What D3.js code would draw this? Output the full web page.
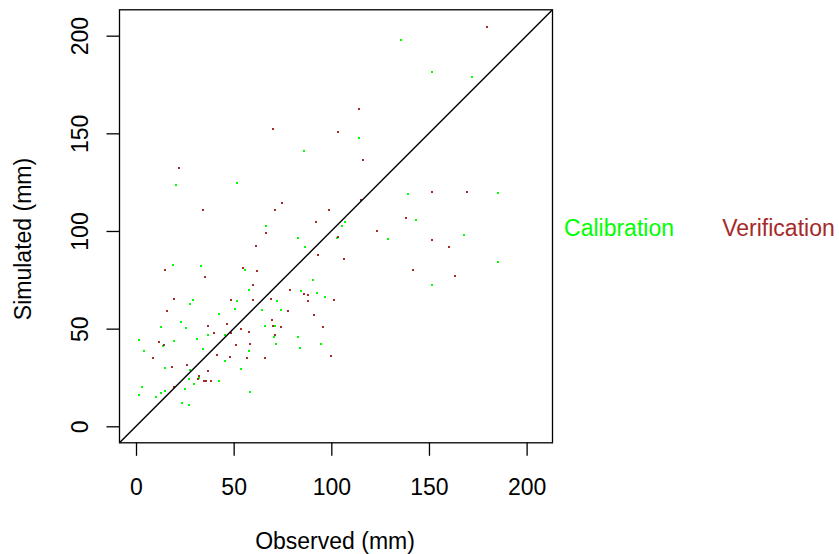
<!DOCTYPE html>
<html>
<head>
<meta charset="utf-8">
<script src="https://cdn.jsdelivr.net/npm/d3@7"></script>
<style>
  body { margin: 0; background: #fff; }
  svg { display: block; font-family: "Liberation Sans", Arial, Helvetica, sans-serif; }
</style>
</head>
<body>
<div id="chart"></div>
<script>
// calibration points (observed, simulated) in mm
const calObs = [135.9, 114.3, 86.1, 151.8, 171.8, 20.5, 51.8, 66.7, 19.0, 33.3, 55.9, 57.9,
  139.5, 107.2, 105.6, 103.1, 83.1, 129.2, 86.7, 90.8, 84.6, 92.8, 96.9, 185.6,
  143.6, 167.7, 185.6, 151.3, 29.2, 27.7, 51.8, 50.8, 64.6, 42.6, 23.1, 12.8,
  25.6, 66.1, 36.9, 45.6, 1.5, 19.5, 31.3, 13.8, 34.3, 4.1, 57.9, 45.6,
  14.9, 53.8, 27.7, 32.3, 27.2, 42.6, 29.7, 3.1, 25.1, 14.9, 12.8, 58.4,
  1.5, 10.2, 23.6, 27.2, 72.3, 74.3, 71.3, 70.8, 83.1, 71.8, 84.1, 94.9];
const calSim = [198.0, 147.8, 141.2, 181.6, 179.0, 123.8, 124.8, 102.3, 82.4, 81.9, 79.8, 69.6,
  118.7, 104.4, 102.3, 96.2, 96.2, 95.7, 91.6, 74.7, 69.1, 68.0, 66.0, 119.7,
  105.4, 98.2, 83.9, 72.6, 64.5, 62.4, 64.0, 59.9, 59.3, 57.3, 53.2, 50.7,
  50.1, 51.2, 46.6, 46.6, 44.0, 43.5, 44.5, 40.9, 39.4, 38.4, 38.4, 33.3,
  29.7, 29.2, 28.7, 24.6, 24.1, 23.0, 21.5, 20.0, 18.9, 17.9, 16.9, 17.4,
  15.9, 14.8, 11.8, 10.8, 64.0, 59.3, 51.2, 45.5, 45.5, 42.0, 39.9, 42.0];

// verification points (observed, simulated) in mm
const verObs = [114.3, 70.2, 103.6, 179.5, 22.0, 34.3, 66.7, 61.5, 14.9, 35.4, 54.9, 62.0,
  60.0, 116.4, 115.4, 74.9, 71.3, 99.0, 138.4, 92.3, 123.6, 103.6, 93.3, 106.7,
  79.0, 86.1, 88.2, 151.8, 169.7, 151.3, 160.5, 142.0, 163.1, 19.5, 15.9, 48.7,
  60.0, 46.7, 36.9, 53.8, 57.9, 40.0, 48.7, 11.8, 14.3, 51.3, 58.4, 41.5,
  8.7, 48.2, 56.9, 66.1, 26.1, 18.4, 36.9, 32.3, 31.8, 34.9, 35.9, 38.4,
  19.5, 69.2, 88.2, 101.5, 77.9, 91.3, 69.7, 70.2, 74.3, 95.9, 71.3, 100.0];
const verSim = [162.7, 152.4, 150.9, 204.6, 132.5, 110.5, 99.2, 92.1, 79.8, 76.2, 80.8, 79.3,
  72.6, 136.1, 116.1, 114.1, 111.0, 111.0, 106.9, 104.4, 99.8, 96.7, 87.5, 85.9,
  69.6, 67.5, 67.0, 120.2, 120.2, 95.2, 91.6, 79.8, 77.2, 65.0, 58.8, 64.5,
  64.5, 52.2, 51.2, 49.6, 48.1, 47.6, 47.6, 43.0, 41.4, 41.4, 42.0, 36.3,
  34.8, 35.3, 34.8, 34.8, 31.2, 30.2, 28.1, 25.6, 24.1, 23.0, 23.0, 23.0,
  20.0, 65.0, 64.0, 64.5, 58.8, 56.8, 54.2, 51.2, 50.7, 50.7, 46.6, 35.8];

const tickVals = [0, 50, 100, 150, 200];
const seriesNames = ["Calibration", "Verification"];
const seriesColors = ["#00ff00", "#a52a2a"];

const W = 839, H = 554;
const L = 119.5, R = 552.5, T = 9.8, B = 442.8;
const dom = [-8.45, 213.25];
const FS = 23;

const svg = d3.select("#chart").append("svg")
  .attr("width", W).attr("height", H);

const x = d3.scaleLinear().domain(dom).range([L, R]);
const y = d3.scaleLinear().domain(dom).range([B, T]);

// points
const sets = [
  calObs.map((v, i) => [v, calSim[i]]),
  verObs.map((v, i) => [v, verSim[i]])
];
sets.forEach((pts, k) => {
  svg.append("g").attr("shape-rendering", "crispEdges")
    .selectAll("rect").data(pts).join("rect")
    .attr("x", d => Math.round(x(d[0]) - 1))
    .attr("y", d => Math.round(y(d[1]) - 1))
    .attr("width", 2).attr("height", 2)
    .attr("fill", seriesColors[k]);
});

// 1:1 line
svg.append("line")
  .attr("x1", x(dom[0])).attr("y1", y(dom[0]))
  .attr("x2", x(dom[1])).attr("y2", y(dom[1]))
  .attr("stroke", "#000").attr("stroke-width", 1.4);

// frame
svg.append("rect")
  .attr("x", L).attr("y", T).attr("width", R - L).attr("height", B - T)
  .attr("fill", "none").attr("stroke", "#000").attr("stroke-width", 1.3);

// x axis
const gx = svg.append("g").attr("transform", `translate(0,${B})`)
  .call(d3.axisBottom(x).tickValues(tickVals).tickSize(13).tickPadding(23));
gx.select(".domain").remove();
gx.selectAll("line").attr("stroke", "#000").attr("stroke-width", 1.3);
gx.selectAll("text").attr("font-size", FS).attr("fill", "#000")
  .attr("font-family", "Liberation Sans, Arial, sans-serif");

// y axis, labels turned like R's default
const gy = svg.append("g").attr("transform", `translate(${L},0)`)
  .call(d3.axisLeft(y).tickValues(tickVals).tickSize(13));
gy.select(".domain").remove();
gy.selectAll("line").attr("stroke", "#000").attr("stroke-width", 1.3);
gy.selectAll("text")
  .attr("x", 0).attr("y", -32).attr("dy", null)
  .attr("transform", "rotate(-90)")
  .attr("text-anchor", "middle")
  .attr("font-size", FS).attr("fill", "#000")
  .attr("font-family", "Liberation Sans, Arial, sans-serif");

// axis titles
svg.append("text")
  .attr("x", (L + R) / 2 - 1).attr("y", 549)
  .attr("text-anchor", "middle").attr("font-size", FS)
  .text("Observed (mm)");

svg.append("text")
  .attr("transform", "translate(31,239) rotate(-90)")
  .attr("text-anchor", "middle").attr("font-size", FS)
  .text("Simulated (mm)");

// legend text
const legX = [619, 778.5];
seriesNames.forEach((n, i) => {
  svg.append("text")
    .attr("x", legX[i]).attr("y", 236)
    .attr("text-anchor", "middle").attr("font-size", FS)
    .attr("fill", seriesColors[i])
    .text(n);
});
</script>
</body>
</html>
